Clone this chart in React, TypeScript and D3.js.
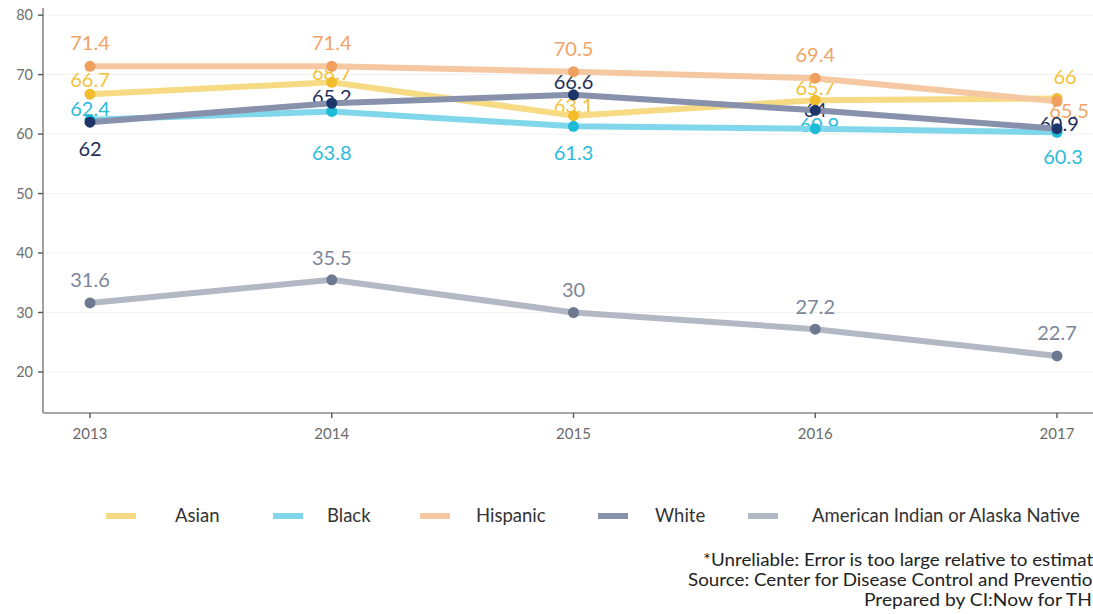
import React from "react";
import * as d3 from "d3";

const years = [2013, 2014, 2015, 2016, 2017];
const asian = [66.7, 68.7, 63.1, 65.7, 66];
const black = [62.4, 63.8, 61.3, 60.9, 60.3];
const hispanic = [71.4, 71.4, 70.5, 69.4, 65.5];
const white = [62, 65.2, 66.6, 64, 60.9];
const aian = [31.6, 35.5, 30, 27.2, 22.7];
const yTicks = [20, 30, 40, 50, 60, 70, 80];
const seriesNames = ["Asian", "Black", "Hispanic", "White", "American Indian or Alaska Native"];
const footerLines = [
  "*Unreliable: Error is too large relative to estimate",
  "Source: Center for Disease Control and Prevention",
  "Prepared by CI:Now for THE",
];

const W = 1093;
const H = 614;
const FONT = "Lato, 'Open Sans', sans-serif";

// style config (per series)
const styles = [
  { line: "#f7db84", point: "#f2bc2c", label: "#f2c23a" },
  { line: "#80d6ea", point: "#1ebbd9", label: "#2cbcd9" },
  { line: "#f5c8a2", point: "#ef9f5e", label: "#f0a466" },
  { line: "#8891ab", point: "#1d3568", label: "#1f2f5a" },
  { line: "#b3b9c4", point: "#6c7990", label: "#7c8698" },
];
// label placement offsets (px) relative to each point
const labelDy = [
  [-14, -10, -10, -12, -22],
  [-11, 41, 26, -4, 25],
  [-23, -23, -23, -23, 9],
  [27, -6, -13, 0, -5],
  [-23, -22, -23, -22, -23],
];
const labelDx = [
  [0, 0, 0, 0, 8],
  [0, 0, 0, 4, 6],
  [0, 0, 0, 0, 12],
  [0, 0, 0, 0, 2],
  [0, 0, 0, 0, 0],
];
const legendKeyX = [106, 273, 420, 598, 748];
const legendTextX = [175, 327, 476, 655, 812];
const footerRight = 1103;
const footerWidths = [400, 415, 239];

export default function App() {
  const allSeries = [asian, black, hispanic, white, aian];
  const x = d3.scaleLinear().domain([2013, 2017]).range([90, 1057]);
  const y = d3.scaleLinear().domain([13.1, 81.2]).range([413, 8]);
  const line = d3
    .line<number>()
    .x((_, i) => x(years[i]))
    .y((d) => y(d));
  const axisLeft = 43;
  const axisBottom = 413;

  return (
    <svg
      width={W}
      height={H}
      style={{ position: "absolute", left: 0, top: 0, background: "#fff" }}
      fontFamily={FONT}
    >
      <rect width={W} height={H} fill="#fff" />
      {/* grid */}
      {yTicks.map((t) => (
        <line key={"g" + t} x1={axisLeft} x2={W} y1={y(t)} y2={y(t)} stroke="#f1f1f1" strokeWidth={1} />
      ))}
      {/* axes */}
      <line x1={axisLeft} x2={axisLeft} y1={8} y2={axisBottom} stroke="#8a8a8a" strokeWidth={1.6} />
      <line x1={axisLeft} x2={W} y1={axisBottom} y2={axisBottom} stroke="#8a8a8a" strokeWidth={1.6} />
      {yTicks.map((t) => (
        <g key={"yt" + t}>
          <line x1={axisLeft - 5} x2={axisLeft} y1={y(t)} y2={y(t)} stroke="#555" strokeWidth={1.4} />
          <text x={axisLeft - 10} y={y(t)} dy="0.35em" textAnchor="end" fontSize={14.5} fill="#6e6e6e">
            {t}
          </text>
        </g>
      ))}
      {years.map((yr) => (
        <g key={"xt" + yr}>
          <line x1={x(yr)} x2={x(yr)} y1={axisBottom} y2={axisBottom + 5} stroke="#555" strokeWidth={1.4} />
          <text x={x(yr)} y={axisBottom + 26} textAnchor="middle" fontSize={15} fill="#6a6a6a">
            {yr}
          </text>
        </g>
      ))}
      {/* labels */}
      {allSeries.map((s, si) =>
        s.map((v, i) => (
          <text
            key={"l" + si + "-" + i}
            x={x(years[i]) + labelDx[si][i]}
            y={y(v) + labelDy[si][i]}
            dy="0.36em"
            textAnchor="middle"
            fontSize={20}
            fill={styles[si].label}
          >
            {String(v)}
          </text>
        ))
      )}
      {/* lines */}
      {allSeries.map((s, si) => (
        <path key={"p" + si} d={line(s) || ""} fill="none" stroke={styles[si].line} strokeWidth={6} strokeLinejoin="round" />
      ))}
      {/* points */}
      {allSeries.map((s, si) =>
        s.map((v, i) => (
          <circle key={"c" + si + "-" + i} cx={x(years[i])} cy={y(v)} r={5.5} fill={styles[si].point} />
        ))
      )}
      {/* legend */}
      {seriesNames.map((n, i) => (
        <g key={"lg" + i}>
          <line x1={legendKeyX[i]} x2={legendKeyX[i] + 30} y1={516} y2={516} stroke={styles[i].line} strokeWidth={6} />
          <text x={legendTextX[i]} y={516} dy="0.35em" fontSize={18.5} fill="#333">
            {n}
          </text>
        </g>
      ))}
      {/* footer */}
      {footerLines.map((t, i) => (
        <text
          key={"f" + i}
          x={footerRight - footerWidths[i]}
          y={566 + i * 20}
          fontSize={16.5}
          fill="#222"
          textLength={footerWidths[i]}
          lengthAdjust="spacingAndGlyphs"
        >
          {t}
        </text>
      ))}
    </svg>
  );
}
